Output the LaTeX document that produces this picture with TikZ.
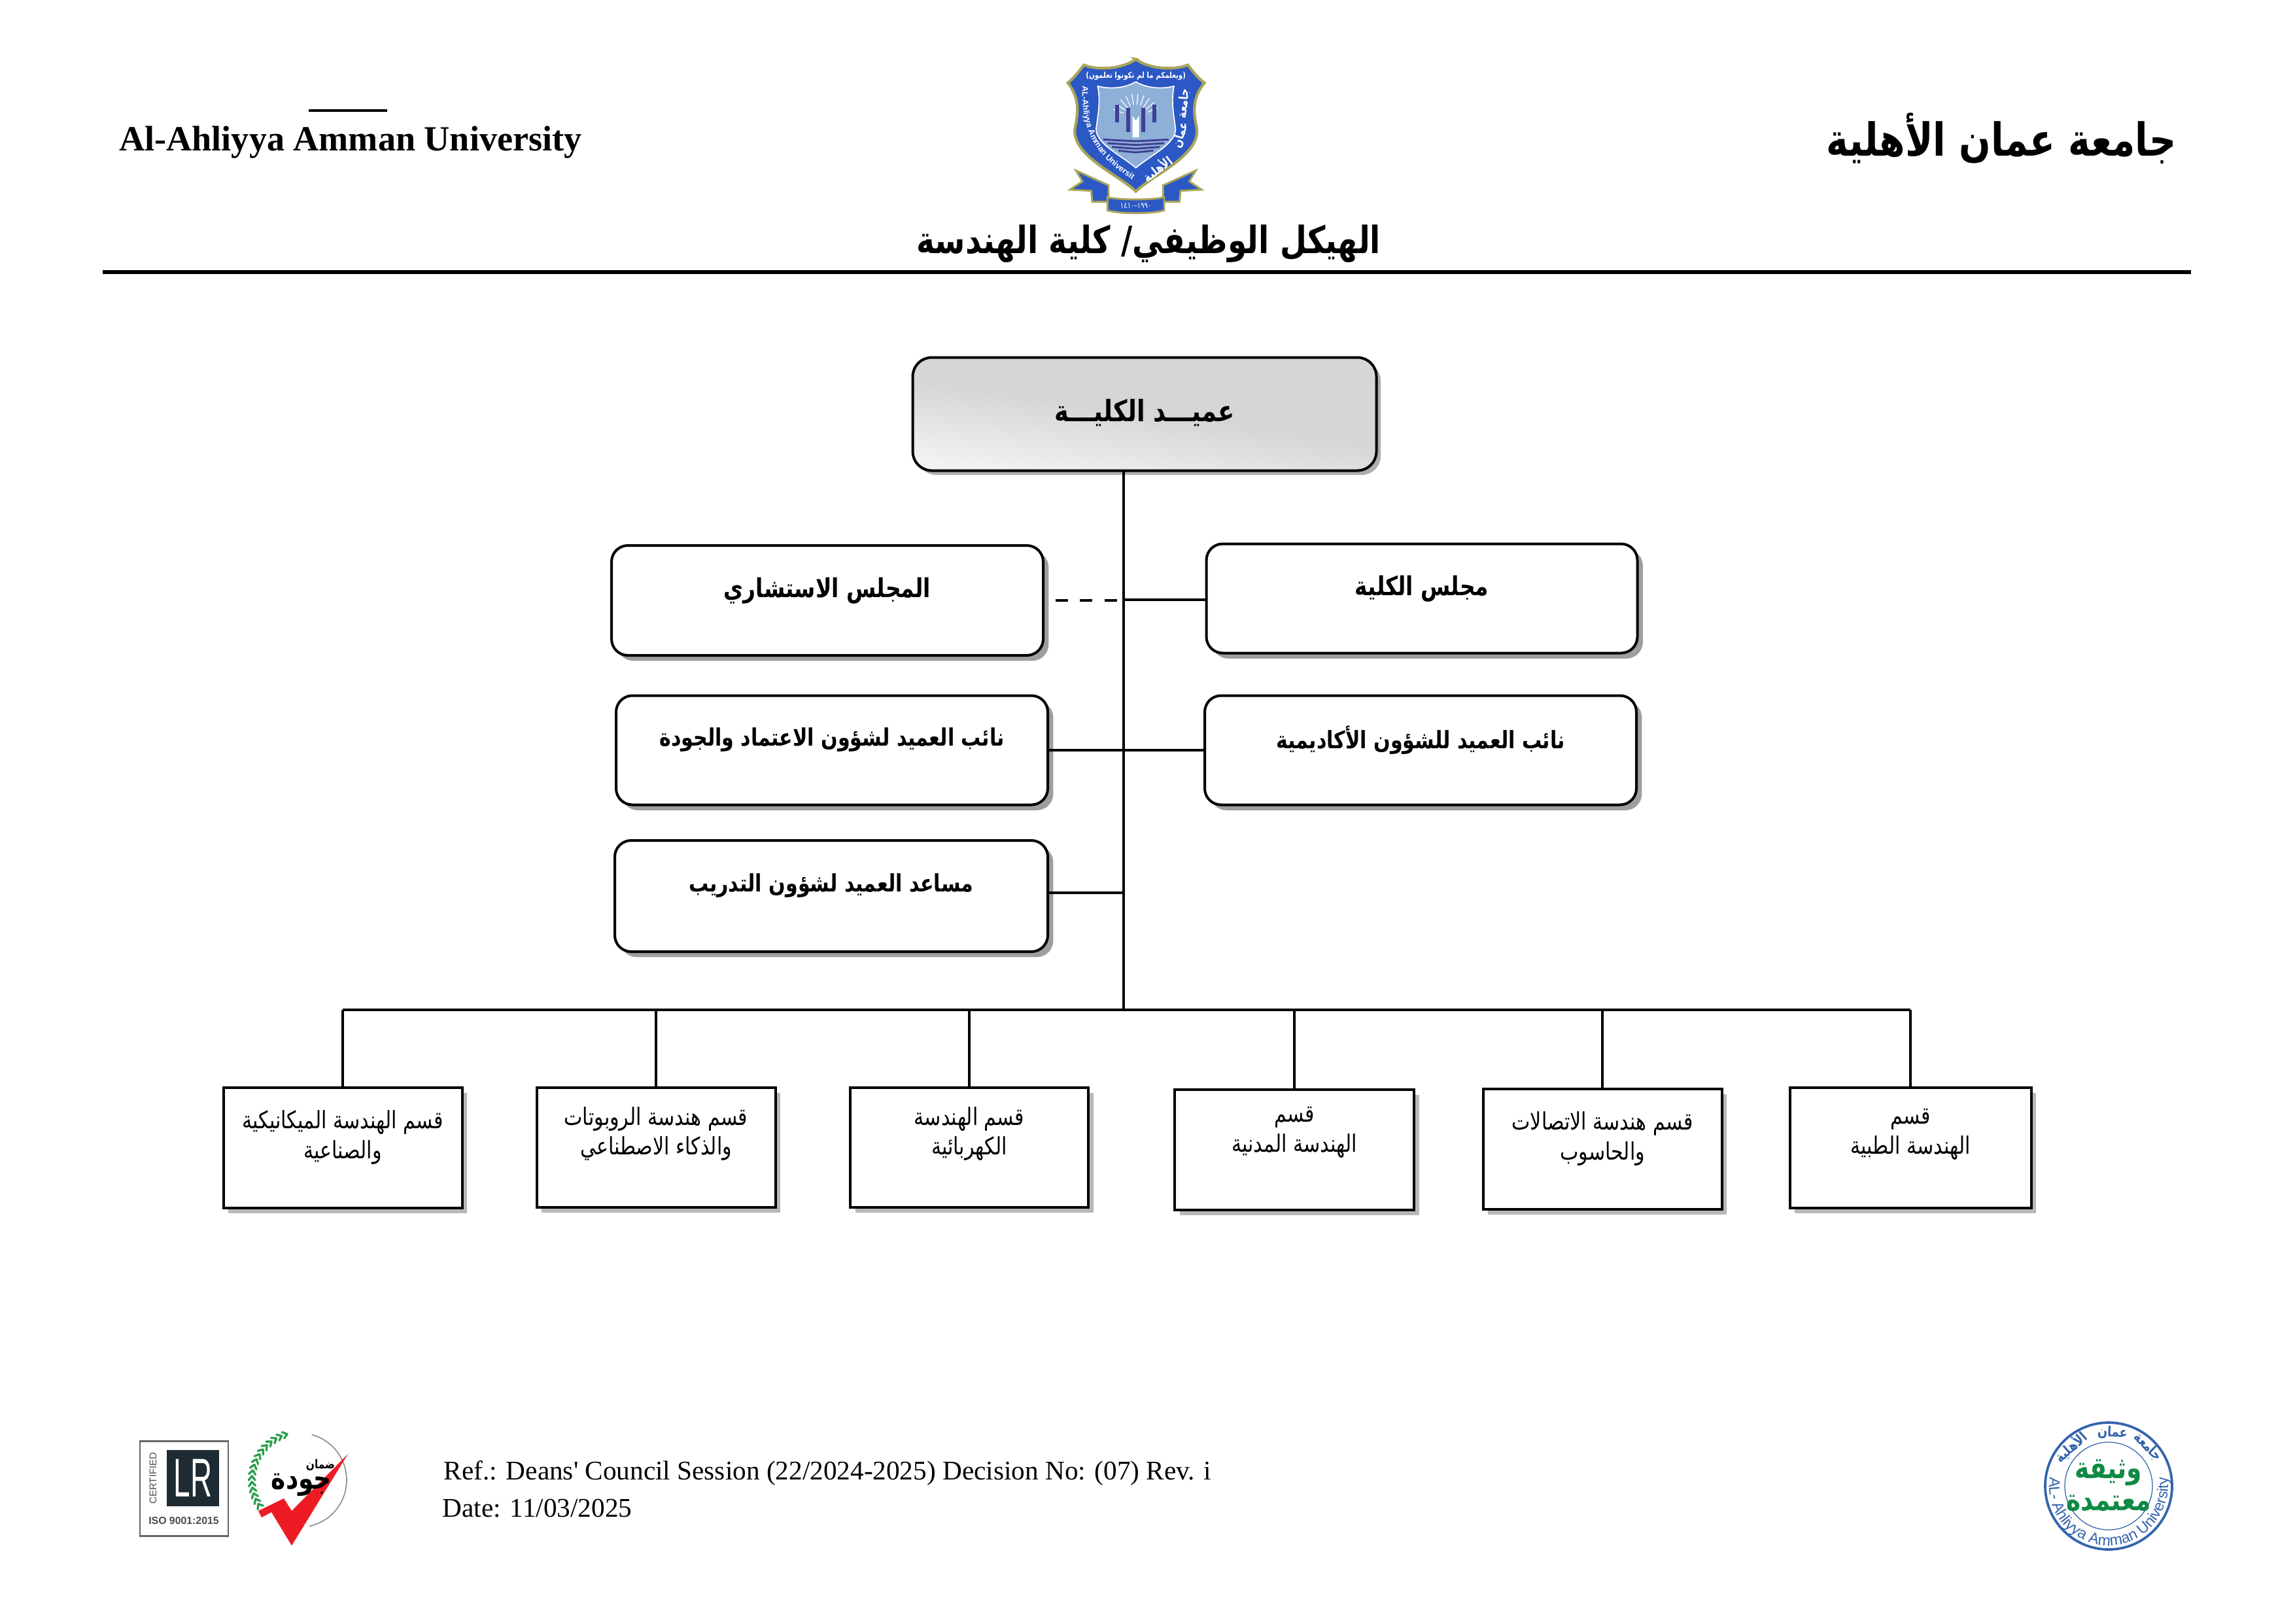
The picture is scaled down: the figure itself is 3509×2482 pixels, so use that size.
\documentclass[tikz,border=0pt]{standalone}
\usepackage{fontspec}
\usetikzlibrary{shadows,decorations.text}
\setmainfont[Ligatures=TeXOff]{Liberation Serif}
\setsansfont{Liberation Sans}
\TeXXeTstate=1
\newfontfamily\arabicfont[Script=Arabic,FakeStretch=0.82]{DejaVu Sans}
\newcommand{\ar}[1]{{\arabicfont\beginR #1\endR}}
\newcommand{\fs}[1]{\fontsize{#1}{#1}\selectfont}
\definecolor{shieldblue}{HTML}{2B58C4}
\definecolor{shieldgold}{HTML}{A8A45A}
\definecolor{shieldink}{HTML}{3F3F94}
\definecolor{shieldpale}{HTML}{DDE8F5}
\definecolor{shieldmid}{HTML}{8DAFD8}
\definecolor{stampblue}{HTML}{3364AC}
\definecolor{stampgreen}{HTML}{0F8A44}
\definecolor{lrdark}{HTML}{1E2B33}
\definecolor{leafgreen}{HTML}{2E9E4F}
\definecolor{checkred}{HTML}{ED1C24}
\tikzset{
  sized/.style 2 args={minimum width=#1*0.24pt,minimum height=#2*0.24pt},
  line/.style={line width=0.96pt},
  softbox/.style={draw,line,fill=white,rounded corners=6pt,outer sep=0pt,align=center,
    font=\fs{9.6}\bfseries,text depth=9.7pt,
    drop shadow={shadow xshift=2pt,shadow yshift=-2pt,fill=black!38,opacity=1}},
  softsmall/.style={softbox,font=\fs{8.8}\bfseries},
  deanbox/.style={draw,line,rounded corners=7pt,outer sep=0pt,align=center,font=\fs{10.8}\bfseries,
    text depth=2.8pt,shading=axis,top color=black!16,bottom color=black!5,middle color=black!16,shading angle=-8,
    drop shadow={shadow xshift=1.6pt,shadow yshift=-1.6pt,fill=black!45,opacity=.7}},
  deptbox/.style={draw,line,fill=white,outer sep=0pt,align=center,
    font=\fontsize{8.8}{11}\selectfont,text depth=9.8pt,
    drop shadow={shadow xshift=1.8pt,shadow yshift=-2pt,fill=black!28,opacity=1}},
}
\begin{document}
\begin{tikzpicture}[x=0.24pt,y=-0.24pt]
  \useasboundingbox (0,0) rectangle (3509,2482);
  \node (uni) at (536,218) {\fs{13}\bfseries Al-Ahliyya Amman University};
  \node (uniar) at (3060,212) {\fs{16.7}\bfseries\ar{جامعة عمان الأهلية}};
  \node (title) at (1756,373) {\fs{13.8}\bfseries\ar{الهيكل الوظيفي/ كلية الهندسة}};
  \draw[line] (472,169) -- (592,169);
  \draw[line width=1.44pt] (157,416) -- (3350,416);

  \node[deanbox,sized={709}{173}] (dean) at (1750,633) {\ar{عميـــد الكليـــة}};
  \node[softbox,sized={660}{168}] (advisory) at (1265,918) {\ar{المجلس الاستشاري}};
  \node[softbox,sized={659}{167}] (council) at (2174,915) {\ar{مجلس الكلية}};
  \node[softsmall,sized={660}{167}] (vdquality) at (1272,1147) {\ar{نائب العميد لشؤون الاعتماد والجودة}};
  \node[softsmall,sized={660}{167}] (vdacademic) at (2172,1147) {\ar{نائب العميد للشؤون الأكاديمية}};
  \node[softsmall,sized={662}{170}] (assistant) at (1271,1370) {\ar{مساعد العميد لشؤون التدريب}};

  \node[deptbox,sized={365}{184}] (mech) at (524,1755) {\ar{قسم الهندسة الميكانيكية}\\\ar{والصناعية}};
  \node[deptbox,sized={365}{183},text depth=12pt] (robot) at (1003,1754) {\ar{قسم هندسة الروبوتات}\\\ar{والذكاء الاصطناعي}};
  \node[deptbox,sized={364}{183},text depth=12pt] (elec) at (1482,1754) {\ar{قسم الهندسة}\\\ar{الكهربائية}};
  \node[deptbox,sized={366}{184},text depth=15pt] (civil) at (1979,1758) {\ar{قسم}\\\ar{الهندسة المدنية}};
  \node[deptbox,sized={365}{184}] (comm) at (2450,1757) {\ar{قسم هندسة الاتصالات}\\\ar{والحاسوب}};
  \node[deptbox,sized={369}{184},text depth=12pt] (med) at (2921,1755) {\ar{قسم}\\\ar{الهندسة الطبية}};

  \coordinate (spine) at (1718,1544);
  \begin{scope}[line]
    \draw (dean.south -| spine) to (spine);
    \draw ([yshift=-.4pt]council.west) to ([yshift=-.4pt]council.west -| spine);
    \draw[dash pattern=on 4.5pt off 4.5pt] ([xshift=4.5pt]advisory.east) to (advisory.east -| spine);
    \draw (vdquality.east) to (vdacademic.west);
    \draw ([yshift=1.2pt]assistant.east) to ([yshift=1.2pt]assistant.east -| spine);
    \draw (mech.north |- spine) to (med.north |- spine);
    \foreach \d in {mech,robot,elec,civil,comm,med}
      \draw (\d.north) to (\d.north |- spine);
  \end{scope}

  \node[anchor=west,inner sep=0pt] (refline) at (678,2252) {\fs{9.9}Ref.: Deans' Council Session (22/2024-2025) Decision No: (07) Rev. i};
  \node[anchor=west,inner sep=0pt] (dateline) at (676,2306) {\fs{9.9}Date: 11/03/2025};

  \begin{scope}[shift={(1600,70)},scale=1/3]
    \path[fill=shieldblue,draw=shieldgold,line width=1pt] (410,62)
      .. controls (350,105) and (240,115) .. (172,88)
      .. controls (150,115) and (125,150) .. (98,170)
      .. controls (145,230) and (150,290) .. (132,370)
      .. controls (105,500) and (330,590) .. (410,668)
      .. controls (490,590) and (715,500) .. (688,370)
      .. controls (670,290) and (675,230) .. (725,170)
      .. controls (695,150) and (670,115) .. (648,88)
      .. controls (580,115) and (470,105) .. cycle;
    \shade[top color=shieldmid,middle color=shieldpale,bottom color=shieldmid,draw=white,line width=.4pt] (410,165)
      .. controls (360,195) and (290,200) .. (235,185)
      .. controls (250,260) and (235,320) .. (228,380)
      .. controls (225,450) and (340,500) .. (410,560)
      .. controls (480,500) and (595,450) .. (592,380)
      .. controls (585,320) and (570,260) .. (585,185)
      .. controls (530,200) and (460,195) .. cycle;
    \foreach \a in {200,215,...,340}
      \draw[white,line width=.3pt] (410,330) ++(\a:60) -- ++(\a:50);
    \fill[white] (395,320) -- (410,345) -- (425,320) -- (425,420) -- (395,420) -- cycle;
    \foreach \x/\t/\b in {325/270/350,375/285/395,445/285/395,495/270/350}
      \fill[shieldink] (\x-9,\t) rectangle (\x+9,\b);
    \foreach \y/\w in {430/150,447/130,464/110,481/80}
      \draw[shieldink,line width=.7pt] (410-\w,\y) -- (410,\y+8) -- (410+\w,\y);
    \path[fill=shieldblue,draw=shieldgold,line width=.7pt] (108,660) -- (165,622) -- (135,572) -- (285,640)
      -- (285,715) -- (210,715) -- (205,665) -- cycle;
    \path[fill=shieldblue,draw=shieldgold,line width=.7pt] (712,660) -- (655,622) -- (685,572) -- (535,640)
      -- (535,715) -- (610,715) -- (615,665) -- cycle;
    \path[fill=shieldblue,draw=shieldgold,line width=.7pt] (280,695) .. controls (340,708) and (480,708) .. (540,695)
      -- (540,755) .. controls (480,772) and (340,772) .. (280,755) -- cycle;
    \node[white,font=\fs{3}\bfseries,inner sep=0pt] (motto) at (410,140) {\ar{(ويعلمكم ما لم تكونوا تعلمون)}};
    \node[white,font=\fs{3},inner sep=0pt] (years) at (410,735) {\ar{١٩٩٠-١٤١٠}};
    \node[white,font=\fs{4.6}\bfseries,rotate=85,inner sep=0pt] (shielda) at (630,265) {\ar{جامعة}};
    \node[white,font=\fs{4.6}\bfseries,rotate=72,inner sep=0pt] (shieldb) at (615,410) {\ar{عمان}};
    \node[white,font=\fs{4.6}\bfseries,rotate=38,inner sep=0pt] (shieldc) at (510,565) {\ar{الأهلية}};
    \path[decorate,decoration={text along path,text align=center,
      text={|\fs{3}\sffamily\bfseries\color{white}|AL-Ahliyya Amman University}}]
      (165,205) .. controls (160,420) and (250,520) .. (395,615);
  \end{scope}

  \begin{scope}[shift={(3224,2272)}]
    \draw[stampblue,line width=.9pt] (0,0) circle (97);
    \draw[stampblue,line width=.3pt] (0,0) circle (67);
    \node[stampgreen,font=\fs{11}\bfseries,inner sep=0pt] (stampa) at (0,-20) {\ar{وثيقة}};
    \node[stampgreen,font=\fs{11}\bfseries,inner sep=0pt] (stampb) at (0,26) {\ar{معتمدة}};
    \node[stampblue,font=\fs{5.2}\bfseries,rotate=-45,inner sep=0pt] (stampc) at (60,-60) {\ar{جامعة}};
    \node[stampblue,font=\fs{5.2}\bfseries,rotate=-3,inner sep=0pt] (stampd) at (6,-82) {\ar{عمان}};
    \node[stampblue,font=\fs{5.2}\bfseries,rotate=42,inner sep=0pt] (stampe) at (-58,-60) {\ar{الأهلية}};
    \path[decorate,decoration={text along path,text align=center,
      text={|\fs{5.6}\sffamily\color{stampblue}|AL- Ahliyya Amman University}}]
      (190:91) arc[start angle=190,end angle=-10,radius=91];
  \end{scope}

  \draw[black!60,line width=.7pt] (214,2203) rectangle (349,2348);
  \fill[lrdark] (255,2217) rectangle (335,2303);
  \node[white,font=\fs{20}\sffamily,transform shape,xscale=.55,inner sep=0pt] (lr) at (295,2260) {LR};
  \node[black!70,font=\fs{3.6}\sffamily,rotate=90,inner sep=0pt] (certified) at (234,2260) {CERTIFIED};
  \node[black!70,font=\fs{3.8}\sffamily\bfseries,inner sep=0pt] (iso) at (281,2325) {ISO 9001:2015};

  \begin{scope}[shift={(458,2263)}]
    \draw[black!45,line width=.4pt] (-75:72) arc[start angle=-75,end angle=78,radius=72];
    \foreach \a in {145,152,...,250} {
      \draw[leafgreen,line width=.8pt,line cap=round] (\a:68) -- (\a+5:73);
      \draw[leafgreen,line width=.8pt,line cap=round] (\a:78) -- (\a+5:73);
    }
  \end{scope}
  \fill[checkred] (395,2310) -- (434,2291) -- (446,2310) -- (532,2223) -- (446,2363) -- (415,2312) -- (400,2320) -- cycle;
  \node[font=\fs{4.5}\bfseries,inner sep=0pt] (daman) at (490,2240) {\ar{ضمان}};
  \node[font=\fs{11}\bfseries,inner sep=0pt] (jawda) at (461,2270) {\ar{جودة}};
\end{tikzpicture}
\end{document}
